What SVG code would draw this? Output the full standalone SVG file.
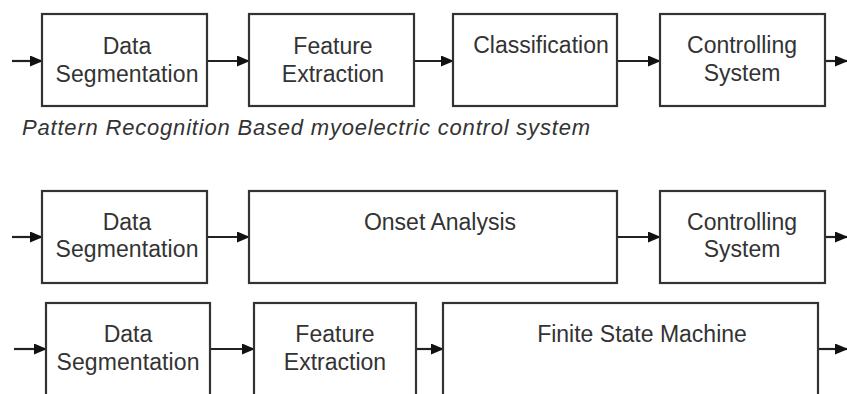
<svg xmlns="http://www.w3.org/2000/svg" width="847" height="394" viewBox="0 0 847 394">
<style>
.box{fill:#fff;stroke:#333;stroke-width:2.2}
.t{font-family:"Liberation Sans",Arial,sans-serif;font-size:23px;fill:#333;text-anchor:middle}
.cap{font-family:"Liberation Sans",Arial,sans-serif;font-size:22px;font-style:italic;fill:#333}
.c{stroke:#222;stroke-width:2.2;fill:none}
</style>
<defs>
<marker id="ah" markerWidth="13" markerHeight="11" refX="12" refY="5.5" orient="auto" markerUnits="userSpaceOnUse">
<path d="M0,0 L13,5.5 L0,11 Z" fill="#111"/>
</marker>
</defs>
<rect width="847" height="394" fill="#fff"/>
<g id="connectors">
<line class="c" x1="12" y1="61" x2="42" y2="61" marker-end="url(#ah)"/>
<line class="c" x1="207" y1="61" x2="249" y2="61" marker-end="url(#ah)"/>
<line class="c" x1="414" y1="61" x2="453" y2="61" marker-end="url(#ah)"/>
<line class="c" x1="617" y1="61" x2="660" y2="61" marker-end="url(#ah)"/>
<line class="c" x1="825" y1="61" x2="847" y2="61" marker-end="url(#ah)"/>
<line class="c" x1="12" y1="237" x2="42" y2="237" marker-end="url(#ah)"/>
<line class="c" x1="207" y1="237" x2="249" y2="237" marker-end="url(#ah)"/>
<line class="c" x1="617" y1="237" x2="660" y2="237" marker-end="url(#ah)"/>
<line class="c" x1="825" y1="237" x2="847" y2="237" marker-end="url(#ah)"/>
<line class="c" x1="14" y1="349" x2="46" y2="349" marker-end="url(#ah)"/>
<line class="c" x1="210" y1="349" x2="254" y2="349" marker-end="url(#ah)"/>
<line class="c" x1="416" y1="349" x2="443" y2="349" marker-end="url(#ah)"/>
<line class="c" x1="818" y1="349" x2="847" y2="349" marker-end="url(#ah)"/>
</g>
<g id="r1-seg"><rect class="box" x="42" y="14" width="165" height="92"/><text class="t" x="127" y="54">Data</text><text class="t" x="127" y="82" textLength="143">Segmentation</text></g>
<g id="r1-feat"><rect class="box" x="249" y="14" width="165" height="92"/><text class="t" x="333" y="54">Feature</text><text class="t" x="333" y="82">Extraction</text></g>
<g id="r1-class"><rect class="box" x="453" y="14" width="164" height="92"/><text class="t" x="541" y="53">Classification</text></g>
<g id="r1-ctrl"><rect class="box" x="660" y="14" width="165" height="92"/><text class="t" x="742" y="53">Controlling</text><text class="t" x="742" y="81">System</text></g>
<text class="cap" x="22" y="135" textLength="568">Pattern Recognition Based myoelectric control system</text>
<g id="r2-seg"><rect class="box" x="42" y="191" width="165" height="92"/><text class="t" x="127" y="230">Data</text><text class="t" x="127" y="257" textLength="143">Segmentation</text></g>
<g id="r2-onset"><rect class="box" x="249" y="191" width="368" height="92"/><text class="t" x="440" y="230">Onset Analysis</text></g>
<g id="r2-ctrl"><rect class="box" x="660" y="191" width="165" height="92"/><text class="t" x="742" y="230">Controlling</text><text class="t" x="742" y="257">System</text></g>
<g id="r3-seg"><rect class="box" x="46" y="303" width="164" height="100"/><text class="t" x="128" y="342">Data</text><text class="t" x="128" y="370" textLength="143">Segmentation</text></g>
<g id="r3-feat"><rect class="box" x="254" y="303" width="162" height="100"/><text class="t" x="335" y="342">Feature</text><text class="t" x="335" y="370">Extraction</text></g>
<g id="r3-fsm"><rect class="box" x="443" y="303" width="375" height="100"/><text class="t" x="642" y="342">Finite State Machine</text></g>
</svg>
